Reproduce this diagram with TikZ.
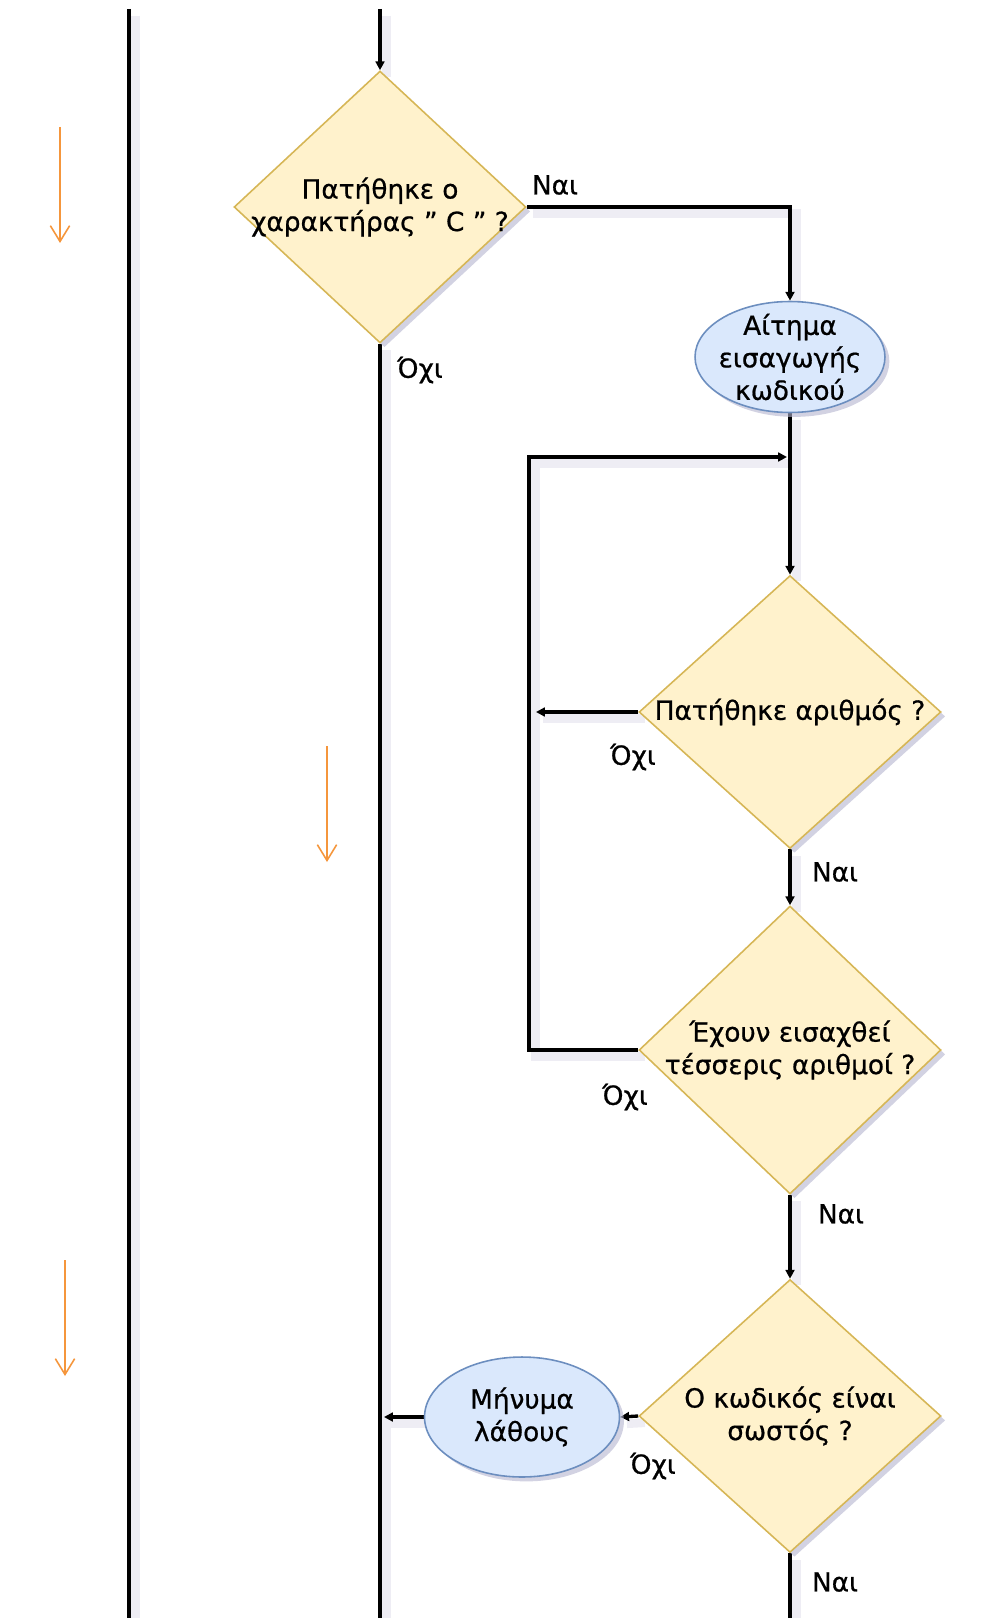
\documentclass[tikz,border=0pt]{standalone}
\usepackage{fontspec}
\setmainfont{DejaVu Sans}[FakeBold=0.7]
\usetikzlibrary{shapes.geometric,arrows.meta,shadows,backgrounds}

\definecolor{decfill}{HTML}{FFF2CC}
\definecolor{decdraw}{HTML}{D6B656}
\definecolor{msgfill}{HTML}{DAE8FC}
\definecolor{msgdraw}{HTML}{6C8EBF}
\definecolor{guideor}{HTML}{F5963C}
\definecolor{shadowc}{HTML}{B4B4CE}
\definecolor{lineshade}{HTML}{EEEDF4}

\tikzset{
  gr/.style={font=\fontsize{15}{18.5}\selectfont},
  nodeshadow/.style={drop shadow={shadow xshift=2.5pt,shadow yshift=-2.5pt,fill=shadowc,opacity=.6}},
  decision/.style={diamond,draw=decdraw,fill=decfill,line width=.9pt,inner sep=0pt,nodeshadow},
  message/.style={ellipse,draw=msgdraw,fill=msgfill,line width=.9pt,inner sep=0pt,nodeshadow},
  inside/.style={gr,align=center,inner sep=0pt},
  wire/.style={line width=1.9pt,preaction={draw=lineshade,-,line width=5pt,transform canvas={shift={(3.8pt,-3.8pt)}}}},
  flow/.style={wire,-{Triangle[length=5pt,width=5pt]}},
  guide/.style={draw=guideor,line width=.9pt,-{Straight Barb[length=9pt,width=11pt]}},
  lbl/.style={gr,inner sep=0pt}
}

\begin{document}
\begin{tikzpicture}[x=0.02cm,y=-0.02cm]
\useasboundingbox (0,0) rectangle (985,1618);

% questions and messages
\node[decision,minimum width=5.84cm,minimum height=5.44cm,
  label={[inside]center:Πατήθηκε ο\\χαρακτήρας " C " ?}] (q1) at (380,207) {};
\node[message,minimum width=3.8cm,minimum height=2.22cm,
  label={[inside]center:Αίτημα\\εισαγωγής\\κωδικού}] (e1) at (790,357) {};
\node[decision,minimum width=6.04cm,minimum height=5.46cm,
  label={[inside]center:Πατήθηκε αριθμός ?}] (q2) at (790,712) {};
\node[decision,minimum width=6.04cm,minimum height=5.76cm,
  label={[inside]center:Έχουν εισαχθεί\\τέσσερις αριθμοί ?}] (q3) at (790,1050) {};
\node[decision,minimum width=6.04cm,minimum height=5.46cm,
  label={[inside]center:Ο κωδικός είναι\\σωστός ?}] (q4) at (790,1416) {};
\node[message,minimum width=3.9cm,minimum height=2.4cm,
  label={[inside]center:Μήνυμα\\λάθους}] (e2) at (522,1417) {};

% answers
\node[lbl] (yes1) at (555,185) {Ναι};
\node[lbl] (no1) at (420,370) {Όχι};
\node[lbl] (no2) at (633,757) {Όχι};
\node[lbl] (yes2) at (835,872) {Ναι};
\node[lbl] (no3) at (625,1097) {Όχι};
\node[lbl] (yes3) at (841,1214) {Ναι};
\node[lbl] (no4) at (653,1466) {Όχι};
\node[lbl] (yes4) at (835,1582) {Ναι};

\coordinate (top) at (380,9);
\coordinate (mainend) at (380,1618);
\coordinate (mainhit) at (384,1417);
\coordinate (loop) at (529,457);
\coordinate (loopin) at (787,457);
\coordinate (loophit) at (536,712);
\coordinate (exit) at (790,1618);

\begin{scope}[on background layer]
\draw[wire] (129,9) -- (129,1618);
\draw[flow] (top) -- (q1.north);
\draw[wire] (q1.south) -- (mainend);
\draw[flow] (q1.east) -| (e1.north);
\draw[flow] (q3.west) -| (loop) -- (loopin);
\draw[flow] (e1.south) -- (q2.north);
\draw[flow] (q2.west) -- (loophit);
\draw[flow] (q2.south) -- (q3.north);
\draw[flow] (q3.south) -- (q4.north);
\draw[flow] (q4.west) -- (e2.east);
\draw[flow] (e2.west) -- (mainhit);
\draw[wire] (q4.south) -- (exit);
\end{scope}

% direction marks
\foreach \gx/\gy in {60/127,327/746,65/1260}
  \draw[guide] (\gx,\gy) -- ++(0,116);
\end{tikzpicture}
\end{document}
